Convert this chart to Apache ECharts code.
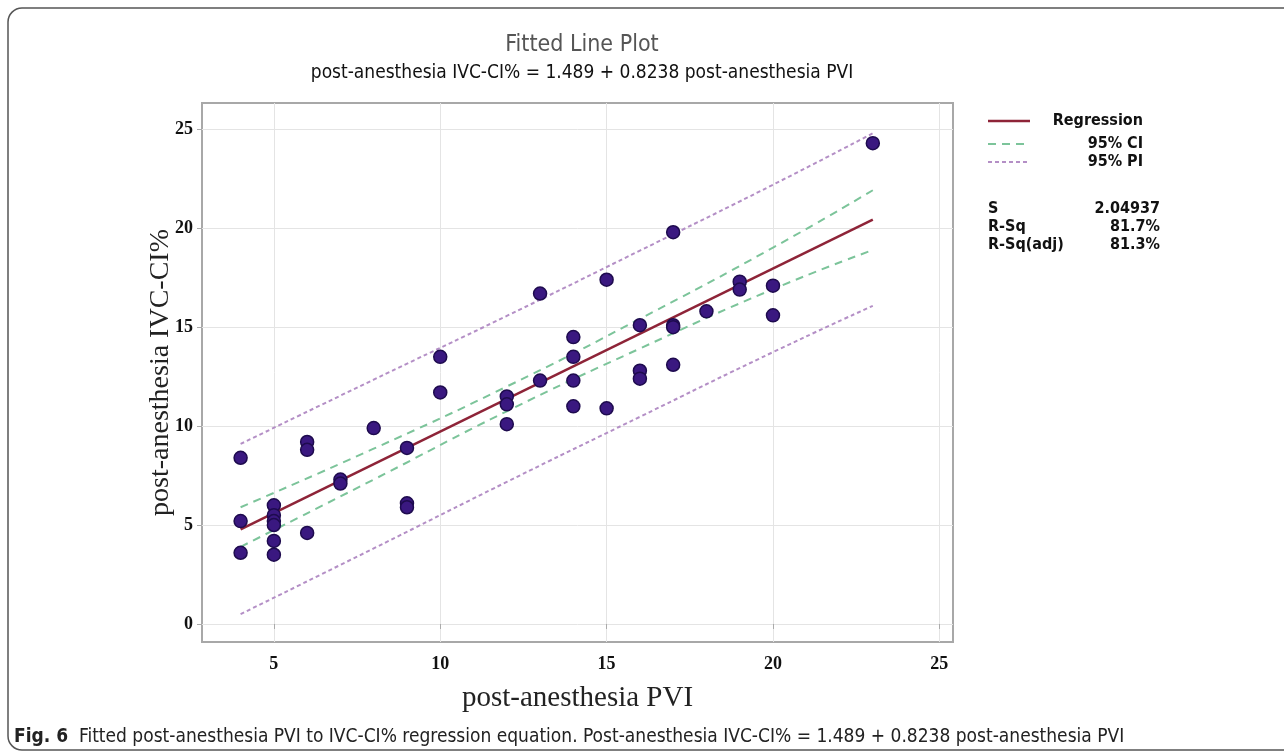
<!DOCTYPE html>
<html>
<head>
<meta charset="utf-8">
<title>Fitted Line Plot</title>
<script src="https://cdn.jsdelivr.net/npm/echarts@6/dist/echarts.min.js"></script>
<style>
html,body{margin:0;padding:0;background:#fff;}
#main{width:1284px;height:751px;}
</style>
</head>
<body>
<div id="main"></div>
<script>
// observed points (post-anesthesia PVI, post-anesthesia IVC-CI%)
var pviValues = [4,4,4, 5,5,5,5,5,5, 6,6,6, 7,7, 8, 9,9,9, 10,10, 12,12,12, 13,13, 14,14,14,14, 15,15, 16,16,16, 17,17,17,17, 18, 19,19, 20,20, 23];
var ivcValues = [8.4,5.2,3.6, 6.0,5.5,5.2,5.0,4.2,3.5, 9.2,8.8,4.6, 7.3,7.1, 9.9, 8.9,6.1,5.9, 13.5,11.7, 11.5,11.1,10.1, 16.7,12.3, 14.5,13.5,12.3,11.0, 17.4,10.9, 15.1,12.8,12.4, 19.8,15.1,15.0,13.1, 15.8, 17.3,16.9, 17.1,15.6, 24.3];

// fitted line ends and confidence / prediction bands
var fitX = [4, 23];
var fitY = [4.78, 20.44];
var bandX = [4, 8, 12, 16, 20, 23];
var ciUpper = [5.9, 8.86, 12.0, 15.42, 19.02, 21.92];
var ciLower = [3.9, 7.3, 10.75, 13.92, 16.92, 18.9];
var piUpper = [9.1, 12.35, 15.57, 18.87, 22.2, 24.8];
var piLower = [0.5, 3.82, 7.18, 10.47, 13.74, 16.08];

var xTicks = [5, 10, 15, 20, 25];
var yTicks = [0, 5, 10, 15, 20, 25];

var statNames = ['S', 'R-Sq', 'R-Sq(adj)'];
var statValues = ['2.04937', '81.7%', '81.3%'];

function pairs(xs, ys) {
	return xs.map(function (x, i) { return [x, ys[i]]; });
}

var chart = echarts.init(document.getElementById('main'));

var sansNarrow = '"Liberation Sans Narrow","DejaVu Sans Condensed",sans-serif';
var serif = '"Liberation Serif","DejaVu Serif",serif';

var legendItems = [
	{ name: 'Regression', color: '#8e2438', dash: null, width: 2.5 },
	{ name: '95% CI', color: '#7cc49a', dash: [8, 6], width: 2 },
	{ name: '95% PI', color: '#b48fc6', dash: [4, 3], width: 2 }
];
var legendY = [121, 144, 162];
var statY = [209, 227, 245];

var graphics = [
	// outer figure frame
	{ type: 'rect', shape: { x: 8, y: 8, width: 1320, height: 742, r: 14 },
	  style: { fill: 'none', stroke: '#555', lineWidth: 1.5 }, silent: true },
	// caption
	{ type: 'text', left: 14, top: 728,
	  style: {
		text: '{b|Fig. 6}  Fitted post-anesthesia PVI to IVC-CI% regression equation. Post-anesthesia IVC-CI% = 1.489 + 0.8238 post-anesthesia PVI',
		font: '19px ' + sansNarrow, fill: '#222',
		rich: { b: { font: 'bold 19px ' + sansNarrow, fill: '#222' } }
	  } }
];
legendItems.forEach(function (it, i) {
	graphics.push({ type: 'line', shape: { x1: 988, y1: legendY[i], x2: 1030, y2: legendY[i] },
		style: { stroke: it.color, lineWidth: it.width, lineDash: it.dash } });
	graphics.push({ type: 'text', x: 1143, y: legendY[i],
		style: { text: it.name, font: '600 16px ' + sansNarrow, fill: '#111', align: 'right', verticalAlign: 'middle' } });
});
statNames.forEach(function (n, i) {
	graphics.push({ type: 'text', x: 988, y: statY[i],
		style: { text: n, font: '600 16px ' + sansNarrow, fill: '#111', align: 'left', verticalAlign: 'middle' } });
	graphics.push({ type: 'text', x: 1160, y: statY[i],
		style: { text: statValues[i], font: '600 16px ' + sansNarrow, fill: '#111', align: 'right', verticalAlign: 'middle' } });
});

chart.setOption({
	backgroundColor: '#fff',
	animation: false,
	title: [
		{ text: 'Fitted Line Plot', left: 577, top: 29, textAlign: 'center',
		  textStyle: { fontFamily: sansNarrow, fontSize: 23, fontWeight: 'normal', color: '#555' } },
		{ text: 'post-anesthesia IVC-CI% = 1.489 + 0.8238 post-anesthesia PVI', left: 577, top: 59, textAlign: 'center',
		  textStyle: { fontFamily: sansNarrow, fontSize: 19, fontWeight: 'normal', color: '#111' } }
	],
	grid: { left: 202, right: 331, top: 103, bottom: 109, show: true, borderColor: '#a8a8a8', borderWidth: 2, backgroundColor: '#fff' },
	xAxis: {
		type: 'value', min: 2.84, max: 25.41,
		name: 'post-anesthesia PVI', nameLocation: 'middle', nameGap: 42,
		nameTextStyle: { fontFamily: serif, fontSize: 29, color: '#222' },
		axisLine: { show: false },
		axisTick: { show: true, length: 5, lineStyle: { color: '#aaa' }, customValues: xTicks },
		axisLabel: { customValues: xTicks, margin: 13, fontFamily: serif, fontWeight: 'bold', fontSize: 18, color: '#111' },
		splitLine: { show: true, lineStyle: { color: '#e4e4e4', width: 1 } }
	},
	yAxis: {
		type: 'value', min: -0.91, max: 26.33,
		name: 'post-anesthesia IVC-CI%', nameLocation: 'middle', nameGap: 27, nameRotate: 90,
		nameMoveOverlap: false,
		nameTextStyle: { fontFamily: serif, fontSize: 28, color: '#222' },
		axisLine: { show: false },
		axisTick: { show: true, length: 5, lineStyle: { color: '#aaa' }, customValues: yTicks },
		axisLabel: { customValues: yTicks, margin: 9, fontFamily: serif, fontWeight: 'bold', fontSize: 18, color: '#111' },
		splitLine: { show: true, lineStyle: { color: '#e4e4e4', width: 1 } }
	},
	series: [
		{ name: '95% PI upper', type: 'line', data: pairs(bandX, piUpper), smooth: true, symbol: 'none',
		  lineStyle: { color: '#b48fc6', width: 2, type: [4, 3] }, z: 2 },
		{ name: '95% PI lower', type: 'line', data: pairs(bandX, piLower), smooth: true, symbol: 'none',
		  lineStyle: { color: '#b48fc6', width: 2, type: [4, 3] }, z: 2 },
		{ name: '95% CI upper', type: 'line', data: pairs(bandX, ciUpper), smooth: true, symbol: 'none',
		  lineStyle: { color: '#7cc49a', width: 2, type: [8, 6] }, z: 2 },
		{ name: '95% CI lower', type: 'line', data: pairs(bandX, ciLower), smooth: true, symbol: 'none',
		  lineStyle: { color: '#7cc49a', width: 2, type: [8, 6] }, z: 2 },
		{ name: 'Regression', type: 'line', data: pairs(fitX, fitY), symbol: 'none',
		  lineStyle: { color: '#8e2438', width: 2.5 }, z: 3 },
		{ name: 'Data', type: 'scatter', data: pairs(pviValues, ivcValues), symbolSize: 13,
		  itemStyle: { color: '#3a1880', borderColor: '#1e0b4e', borderWidth: 1.5, opacity: 1 }, z: 4 }
	],
	graphic: graphics
});
</script>
</body>
</html>
